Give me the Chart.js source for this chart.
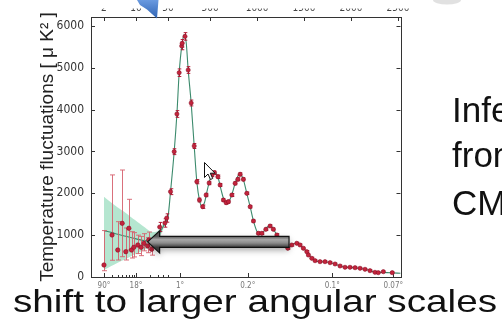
<!DOCTYPE html>
<html>
<head>
<meta charset="utf-8">
<title>CMB temperature power spectrum</title>
<script src="https://cdn.jsdelivr.net/npm/chart.js@4.4.1/dist/chart.umd.min.js"></script>
<style>
  html, body { margin: 0; padding: 0; background: #fff; overflow: hidden; }
  #wrap { position: relative; width: 502px; height: 321px; }
</style>
</head>
<body>
<div id="wrap"><canvas id="cmb" width="502" height="321"></canvas></div>
<script>
// values: multipole l and D_l in uK^2

// low-l points, one per multipole, with big asymmetric error bars
const lowEll = [2, 3, 4, 5, 6, 7, 8, 9, 11, 13, 15, 18, 19, 22];
const lowDl = [287, 1004, 645, 1283, 605, 1164, 645, 710, 765, 710, 805, 741, 884, 662];
const lowErrUp = [823, 1436, 677, 1274, 566, 693, 438, 350, 235, 260, 230, 200, 190, 170];
const lowErrDown = [137, 604, 239, 798, 199, 519, 191, 230, 205, 200, 180, 160, 150, 140];

// binned high-l points
const highEll = [33, 43, 47, 78, 117, 146, 170, 197, 202, 232, 266, 298, 330, 358, 386, 420,
  457, 489, 518, 546, 582, 606, 641, 670, 695, 731, 766, 795, 819, 854, 890, 926, 961, 1014,
  1050, 1093, 1138, 1173, 1210, 1250, 1290, 1327, 1369, 1422, 1457, 1493, 1529, 1546, 1582,
  1617, 1670, 1723, 1777, 1830, 1883, 1936, 1989, 2043, 2096, 2149, 2202, 2255, 2290, 2344, 2439];
const highDl = [1195, 1291, 1410, 2039, 2995, 3896, 4883, 5521, 5585, 5750, 4947, 4159, 3131,
  2278, 1840, 1680, 1960, 2247, 2438, 2493, 2397, 2199, 1840, 1776, 1800, 1960, 2239, 2335,
  2455, 2335, 2000, 1680, 1338, 1044, 1044, 1140, 1219, 1140, 1004, 880, 760, 686, 765, 805,
  765, 686, 605, 526, 447, 390, 366, 366, 342, 311, 263, 232, 232, 222, 208, 184, 151, 112,
  103, 127, 103];
const highErr = [110, 100, 100, 70, 70, 80, 90, 90, 90, 90,
  80, 70, 60, 50, 45, 40, 40, 40, 40, 40,
  40, 35, 35, 35, 35, 35, 35, 35, 35, 35,
  30, 30, 30, 30, 30, 30, 30, 30, 30, 25,
  25, 25, 25, 25, 25, 25, 25, 25, 25, 20,
  20, 20, 20, 20, 20, 20, 20, 20, 20, 20, 20, 20, 20, 20, 20];

// best-fit model curve
const modelEll = [2, 3, 4, 6, 8, 11, 15, 20, 25, 30, 35, 40, 45, 50, 78, 117, 146, 170, 200,
  222, 245, 266, 298, 330, 358, 386, 412, 440, 470, 500, 535, 565, 590, 620, 645, 675, 705,
  735, 766, 812, 850, 890, 926, 961, 1000, 1030, 1070, 1120, 1150, 1190, 1230, 1280, 1320,
  1350, 1400, 1440, 1480, 1530, 1580, 1620, 1680, 1740, 1790, 1840, 1890, 1950, 2020, 2100,
  2160, 2210, 2260, 2330, 2420, 2530];
const modelDl = [1107, 1060, 1020, 975, 940, 900, 870, 860, 880, 960, 1100, 1220, 1330, 1420,
  2040, 3000, 3900, 4880, 5560, 5790, 5600, 4950, 4150, 3130, 2280, 1840, 1690, 1780, 2080,
  2350, 2490, 2460, 2330, 2050, 1860, 1775, 1830, 2000, 2240, 2460, 2350, 2000, 1680, 1340,
  1080, 1030, 1090, 1210, 1210, 1080, 940, 790, 700, 720, 800, 790, 710, 600, 450, 390, 365,
  360, 335, 300, 260, 230, 225, 205, 180, 145, 115, 110, 100, 90];

// cosmic variance band at low l
const bandEll = [2, 4, 6, 8, 11, 15, 20, 25, 30, 40, 50, 60];
const bandHigh = [1920, 1660, 1530, 1420, 1310, 1200, 1100, 1075, 1100, 1290, 1490, 1720];
const bandLow = [170, 340, 430, 500, 575, 645, 715, 765, 840, 1160, 1360, 1600];

const yTicks = [0, 1000, 2000, 3000, 4000, 5000, 6000];
const topTickEll = [2, 10, 50, 500, 1000, 1500, 2000, 2500];
const topTickLabels = ['2', '10', '50', '500', '1000', '1500', '2000', '2500'];
const angleTickEll = [2, 10, 180, 900, 1800, 2450];
const angleTickLabels = ['90°', '18°', '1°', '0.2°', '0.1°', '0.07°'];
const minorTickEll = [3, 4, 5, 6, 7, 8, 9, 20, 30, 40, 50];

// big arrow: from l=1340 back to l=18, drawn at D_l = 840
const arrowFromEll = 1340;
const arrowToEll = 18;
const arrowDl = 840;

const caption = 'shift to larger angular scales';
const sideLines = ['Inferred', 'from', 'CMB'];

// x axis is log for l < 50 and linear above, like the Planck plot
const LIN_START = 50;
const LOG_STRETCH = 487; // axis units per decade in the log part
function axisPos(l) {
  return l >= LIN_START ? l : LIN_START + Math.log10(l / LIN_START) * LOG_STRETCH;
}
const X_MIN = -769, X_MAX = 2527;

const PLOT_FONT = "'Liberation Sans Narrow', 'DejaVu Sans Condensed', 'Liberation Sans', sans-serif";
const SLIDE_FONT = "'Liberation Sans', Arial, sans-serif";

const pts = (xs, ys) => xs.map((l, i) => ({ x: axisPos(l), y: ys[i] }));

// error bars under the points
const errorBars = {
  id: 'errorBars',
  beforeDatasetDraw(chart, args) {
    const ds = chart.data.datasets[args.index];
    if (!ds.errUp) return;
    const { ctx, scales: { x, y } } = chart;
    ctx.save();
    ctx.strokeStyle = ds.errColor;
    ctx.lineWidth = 1;
    ds.data.forEach((p, i) => {
      const px = Math.round(x.getPixelForValue(p.x)) + 0.5;
      const top = y.getPixelForValue(p.y + ds.errUp[i]);
      const bot = y.getPixelForValue(p.y - ds.errDown[i]);
      ctx.beginPath();
      ctx.moveTo(px, top); ctx.lineTo(px, bot);
      ctx.moveTo(px - ds.cap, top); ctx.lineTo(px + ds.cap, top);
      ctx.moveTo(px - ds.cap, bot); ctx.lineTo(px + ds.cap, bot);
      ctx.stroke();
    });
    ctx.restore();
  }
};

// matplotlib-like frame with inward ticks
const frame = {
  id: 'frame',
  beforeDatasetsDraw(chart) {
    const { ctx, chartArea: a, scales: { x, y } } = chart;
    ctx.save();
    ctx.strokeStyle = '#333';
    ctx.lineWidth = 1;
    ctx.beginPath();
    yTicks.forEach(v => {
      const py = Math.round(y.getPixelForValue(v)) + 0.5;
      ctx.moveTo(a.left, py); ctx.lineTo(a.left + 4, py);
      ctx.moveTo(a.right, py); ctx.lineTo(a.right - 4, py);
    });
    topTickEll.forEach(l => {
      const px = Math.round(x.getPixelForValue(axisPos(l))) + 0.5;
      ctx.moveTo(px, a.top); ctx.lineTo(px, a.top + 4);
    });
    angleTickEll.forEach(l => {
      const px = Math.round(x.getPixelForValue(axisPos(l))) + 0.5;
      ctx.moveTo(px, a.bottom); ctx.lineTo(px, a.bottom - 4);
    });
    minorTickEll.forEach(l => {
      const px = Math.round(x.getPixelForValue(axisPos(l))) + 0.5;
      ctx.moveTo(px, a.bottom); ctx.lineTo(px, a.bottom - 2);
    });
    ctx.stroke();
    ctx.strokeRect(Math.round(a.left) + 0.5, Math.round(a.top) + 0.5,
      Math.round(a.right - a.left), Math.round(a.bottom - a.top));
    ctx.restore();
  }
};

// slide decorations: grey arrow, cursor, blue pointer, slide text
const slide = {
  id: 'slide',
  afterDraw(chart) {
    const { ctx, scales: { x, y } } = chart;

    // big grey arrow
    const x0 = x.getPixelForValue(axisPos(arrowToEll));
    const x1 = x.getPixelForValue(axisPos(arrowFromEll));
    const yc = y.getPixelForValue(arrowDl);
    const half = 5.5, headHalf = 11, headLen = 12;
    const arrowPath = () => {
      ctx.beginPath();
      ctx.moveTo(x0, yc);
      ctx.lineTo(x0 + headLen, yc - headHalf);
      ctx.lineTo(x0 + headLen, yc - half);
      ctx.lineTo(x1, yc - half);
      ctx.lineTo(x1, yc + half);
      ctx.lineTo(x0 + headLen, yc + half);
      ctx.lineTo(x0 + headLen, yc + headHalf);
      ctx.closePath();
    };
    ctx.save();
    const g = ctx.createLinearGradient(0, yc - half, 0, yc + half);
    g.addColorStop(0, '#5a5a5a');
    g.addColorStop(0.3, '#a8a8a8');
    g.addColorStop(0.6, '#8c8c8c');
    g.addColorStop(1, '#3c3c3c');
    ctx.shadowColor = 'rgba(0,0,0,0.35)';
    ctx.shadowBlur = 6;
    ctx.shadowOffsetY = 3;
    arrowPath();
    ctx.fillStyle = g;
    ctx.fill();
    ctx.shadowColor = 'transparent';
    ctx.strokeStyle = '#111';
    ctx.lineWidth = 1.2;
    arrowPath();
    ctx.stroke();
    ctx.restore();

    // mouse cursor
    ctx.save();
    ctx.translate(204.5, 162.5);
    ctx.beginPath();
    [[0, 0], [0, 15], [3.5, 11.5], [6, 17], [8.2, 16], [5.8, 10.7], [10.5, 10.7]]
      .forEach(([cx, cy], i) => i ? ctx.lineTo(cx, cy) : ctx.moveTo(cx, cy));
    ctx.closePath();
    ctx.fillStyle = '#fff';
    ctx.fill();
    ctx.strokeStyle = '#111';
    ctx.lineWidth = 1;
    ctx.stroke();
    ctx.restore();

    // the plot image was cropped through its top labels
    ctx.save();
    ctx.fillStyle = '#fff';
    ctx.fillRect(88, 0, 330, 8.5);

    // faint grey shape at the top edge
    ctx.fillStyle = 'rgba(205,205,205,0.6)';
    ctx.beginPath();
    ctx.ellipse(447, 0, 14, 4.5, 0, 0, Math.PI * 2);
    ctx.fill();

    // blue pointer arrow
    const bg = ctx.createLinearGradient(0, 0, 0, 19);
    bg.addColorStop(0, '#6a9ae0');
    bg.addColorStop(1, '#2d62b2');
    ctx.fillStyle = bg;
    ctx.beginPath();
    ctx.moveTo(137, 0);
    ctx.lineTo(158.5, 0);
    ctx.lineTo(157, 18.5);
    ctx.lineTo(147, 9.5);
    ctx.lineTo(140, 5);
    ctx.closePath();
    ctx.fill();

    // slide text
    ctx.fillStyle = '#111';
    ctx.textBaseline = 'alphabetic';
    ctx.font = '35px ' + SLIDE_FONT;
    ctx.fillText(sideLines[0], 452, 122);
    ctx.fillText(sideLines[1], 452, 167);
    ctx.fillText(sideLines[2], 452, 215);

    ctx.font = '32px ' + SLIDE_FONT;
    const w = ctx.measureText(caption).width;
    ctx.translate(13, 312);
    ctx.scale(484 / w, 1);
    ctx.fillText(caption, 0, 0);
    ctx.restore();
  }
};

const ctx = document.getElementById('cmb').getContext('2d');

// Chart.js paints the first dataset last, so points come first and the band last
new Chart(ctx, {
  type: 'scatter',
  data: {
    datasets: [
      {
        label: 'high l',
        data: pts(highEll, highDl),
        errUp: highErr,
        errDown: highErr,
        errColor: '#b01c36',
        cap: 1.8,
        pointRadius: 2.1,
        backgroundColor: '#c4243c',
        borderColor: '#8a1026',
        borderWidth: 0.6
      },
      {
        label: 'low l',
        data: pts(lowEll, lowDl),
        errUp: lowErrUp,
        errDown: lowErrDown,
        errColor: 'rgba(214, 96, 110, 0.9)',
        cap: 2.5,
        pointRadius: 2.2,
        backgroundColor: '#c4243c',
        borderColor: '#8a1026',
        borderWidth: 0.6
      },
      {
        label: 'model',
        data: pts(modelEll, modelDl),
        showLine: true,
        borderColor: '#3b8a6c',
        borderWidth: 1.1,
        pointRadius: 0,
        cubicInterpolationMode: 'monotone',
        fill: false
      },
      {
        label: 'band high',
        data: pts(bandEll, bandHigh),
        showLine: true,
        borderWidth: 0,
        pointRadius: 0,
        tension: 0.3,
        backgroundColor: 'rgba(120, 210, 170, 0.55)',
        fill: '+1'
      },
      {
        label: 'band low',
        data: pts(bandEll, bandLow),
        showLine: true,
        borderWidth: 0,
        pointRadius: 0,
        tension: 0.3,
        fill: false
      }
    ]
  },
  options: {
    responsive: false,
    animation: false,
    events: [],
    layout: { padding: { left: 0, right: 101.5, top: 0, bottom: 0 } },
    plugins: { legend: { display: false }, tooltip: { enabled: false } },
    scales: {
      x: {
        type: 'linear',
        position: 'bottom',
        min: X_MIN,
        max: X_MAX,
        afterBuildTicks: s => { s.ticks = angleTickEll.map(l => ({ value: axisPos(l) })); },
        afterFit: s => { s.height = 44; },
        grid: { display: false, drawTicks: false },
        border: { display: false },
        ticks: {
          autoSkip: false,
          maxRotation: 0,
          minRotation: 0,
          padding: 4,
          color: '#777',
          font: { family: PLOT_FONT, size: 8 },
          callback: (v, i) => angleTickLabels[i]
        }
      },
      xTop: {
        type: 'linear',
        position: 'top',
        min: X_MIN,
        max: X_MAX,
        afterBuildTicks: s => { s.ticks = topTickEll.map(l => ({ value: axisPos(l) })); },
        afterFit: s => { s.height = 17; },
        grid: { display: false, drawTicks: false },
        border: { display: false },
        ticks: {
          autoSkip: false,
          maxRotation: 0,
          minRotation: 0,
          padding: 3,
          color: '#444',
          font: { family: PLOT_FONT, size: 10 },
          callback: (v, i) => topTickLabels[i]
        }
      },
      y: {
        type: 'linear',
        min: 0,
        max: 6214,
        afterBuildTicks: s => { s.ticks = yTicks.map(v => ({ value: v })); },
        afterFit: s => { s.width = 91; },
        grid: { display: false, drawTicks: false },
        border: { display: false },
        ticks: {
          padding: 7,
          color: '#333',
          font: { family: PLOT_FONT, size: 12 },
          callback: v => String(v)
        },
        title: {
          display: true,
          text: 'Temperature fluctuations [ μ K² ]',
          color: '#222',
          font: { family: SLIDE_FONT, size: 19 },
          padding: { top: 36, bottom: 0 }
        }
      }
    }
  },
  plugins: [errorBars, frame, slide]
});
</script>
</body>
</html>
